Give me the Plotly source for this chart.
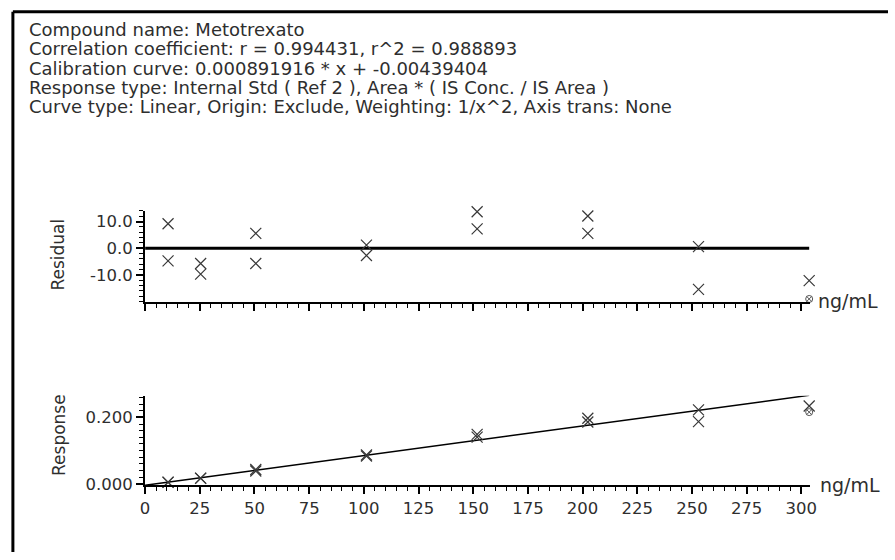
import numpy as np
import plotly.graph_objects as go

# ---- data ----
header_lines = [
    "Compound name: Metotrexato",
    "Correlation coefficient: r = 0.994431, r^2 = 0.988893",
    "Calibration curve: 0.000891916 * x + -0.00439404",
    "Response type: Internal Std ( Ref 2 ), Area * ( IS Conc. / IS Area )",
    "Curve type: Linear, Origin: Exclude, Weighting: 1/x^2, Axis trans: None",
]
slope = 0.000891916
intercept = -0.00439404

conc = [10.5, 10.5, 25.4, 25.4, 50.6, 50.6, 101.2, 101.2, 151.8, 151.8,
        202.4, 202.4, 253.0, 253.0, 303.6]
residual = [9.2, -4.7, -5.7, -9.7, 5.6, -5.7, 1.2, -2.7, 13.7, 7.3,
            12.1, 5.6, 0.6, -15.4, -12.1]
response = [0.0051, 0.0044, 0.0172, 0.0164, 0.0430, 0.0384, 0.0869, 0.0836,
            0.149, 0.1406, 0.1974, 0.186, 0.2226, 0.1872, 0.2342]

excl_conc = [303.6]
excl_residual = [-19.0]
excl_response = [0.2158]

x_ticks = [0, 25, 50, 75, 100, 125, 150, 175, 200, 225, 250, 275, 300]
res_ticks = [-10, 0, 10]
resp_ticks = [0.0, 0.2]
x_unit = "ng/mL"

# ---- layout helpers (page pixel -> paper) ----
W, H = 895, 560
def px(x): return x / W
def py(y): return 1 - y / H

FONT = "DejaVu Sans, Verdana, sans-serif"
TXT = "#2e2e2e"
MK = "#383838"

fig = go.Figure()

x_max = max(conc)
# zero line in residual plot
fig.add_trace(go.Scatter(x=[0, x_max], y=[0, 0], mode="lines",
                         line=dict(color="black", width=3),
                         xaxis="x", yaxis="y", showlegend=False, hoverinfo="skip"))
fig.add_trace(go.Scatter(x=conc, y=residual, mode="markers",
                         marker=dict(symbol="x-thin-open", size=11, color=MK,
                                     line=dict(color=MK, width=1.2)),
                         xaxis="x", yaxis="y", showlegend=False, cliponaxis=False))
fig.add_trace(go.Scatter(x=excl_conc, y=excl_residual, mode="markers",
                         marker=dict(symbol="circle-x-open", size=7, color="#555",
                                     line=dict(color="#555", width=1)),
                         xaxis="x", yaxis="y", showlegend=False, cliponaxis=False))

# calibration line
line_x = np.array([0, x_max])
fig.add_trace(go.Scatter(x=line_x, y=slope * line_x + intercept, mode="lines",
                         line=dict(color="black", width=1.5),
                         xaxis="x2", yaxis="y2", showlegend=False, hoverinfo="skip"))
fig.add_trace(go.Scatter(x=conc, y=response, mode="markers",
                         marker=dict(symbol="x-thin-open", size=11, color=MK,
                                     line=dict(color=MK, width=1.2)),
                         xaxis="x2", yaxis="y2", showlegend=False, cliponaxis=False))
fig.add_trace(go.Scatter(x=excl_conc, y=excl_response, mode="markers",
                         marker=dict(symbol="circle-x-open", size=7, color="#555",
                                     line=dict(color="#555", width=1)),
                         xaxis="x2", yaxis="y2", showlegend=False, cliponaxis=False))

xdom = [px(142), px(816)]
axis_common = dict(showline=True, linecolor="black", linewidth=2, showgrid=False,
                   zeroline=False, ticks="outside", tickcolor="black", tickwidth=1.5,
                   ticklen=7, tickfont=dict(family=FONT, size=16.5, color=TXT))
minor_x = dict(ticks="outside", ticklen=4, tickcolor="black", tickwidth=1, tick0=0, dtick=5)

fig.update_layout(
    width=W, height=H, margin=dict(l=0, r=0, t=0, b=0),
    paper_bgcolor="white", plot_bgcolor="white",
    xaxis=dict(domain=xdom, range=[0, 304], anchor="y", tickmode="array", tickvals=x_ticks,
               showticklabels=False, minor=minor_x, **axis_common),
    yaxis=dict(domain=[py(306), py(214)], range=[-20, 14], anchor="x",
               tickmode="array", tickvals=res_ticks,
               ticktext=[f"{v:.1f}" for v in res_ticks],
               minor=dict(ticks="outside", ticklen=4, tickcolor="black", tickwidth=1,
                          tickmode="array", tickvals=list(np.arange(-20, 15, 2))),
               **axis_common),
    xaxis2=dict(domain=xdom, range=[0, 304], anchor="y2", tickmode="array", tickvals=x_ticks,
                ticklabelstandoff=0, minor=minor_x, **axis_common),
    yaxis2=dict(domain=[py(492.5), py(401.5)], range=[-0.005, 0.265], anchor="x2",
                tickmode="array", tickvals=resp_ticks,
                ticktext=[f"{v:.3f}" for v in resp_ticks],
                minor=dict(ticks="outside", ticklen=4, tickcolor="black", tickwidth=1,
                           tickmode="array",
                           tickvals=list(np.round(np.arange(0, 0.27, 0.02), 2))),
                **axis_common),
)

ann = []
y0 = 30
for i, t in enumerate(header_lines):
    ann.append(dict(text=t, x=px(22), y=py(y0 + i * 19.6), xref="paper", yref="paper",
                    xanchor="left", yanchor="middle", showarrow=False,
                    font=dict(family=FONT, size=18, color=TXT)))
ann.append(dict(text="Residual", x=px(54), y=py(258), xref="paper", yref="paper",
                textangle=-90, showarrow=False, xanchor="center", yanchor="middle",
                font=dict(family=FONT, size=17, color=TXT)))
ann.append(dict(text="Response", x=px(54), y=py(441), xref="paper", yref="paper",
                textangle=-90, showarrow=False, xanchor="center", yanchor="middle",
                font=dict(family=FONT, size=17, color=TXT)))
ann.append(dict(text=x_unit, x=px(822), y=py(305), xref="paper", yref="paper",
                xanchor="left", yanchor="middle", showarrow=False,
                font=dict(family=FONT, size=19, color=TXT)))
ann.append(dict(text=x_unit, x=px(824), y=py(492), xref="paper", yref="paper",
                xanchor="left", yanchor="middle", showarrow=False,
                font=dict(family=FONT, size=19, color=TXT)))
fig.update_layout(annotations=ann)

# frame (left and top edges visible)
fig.add_shape(type="line", xref="paper", yref="paper", x0=px(8), x1=px(8), y0=py(12), y1=0,
              line=dict(color="black", width=3))
fig.add_shape(type="line", xref="paper", yref="paper", x0=px(8), x1=1, y0=py(12), y1=py(12),
              line=dict(color="black", width=3))

fig.write_html("out.html", include_plotlyjs=True, config={"displayModeBar": False},
               post_script="document.body.style.margin='0';document.body.style.overflow='hidden';")
